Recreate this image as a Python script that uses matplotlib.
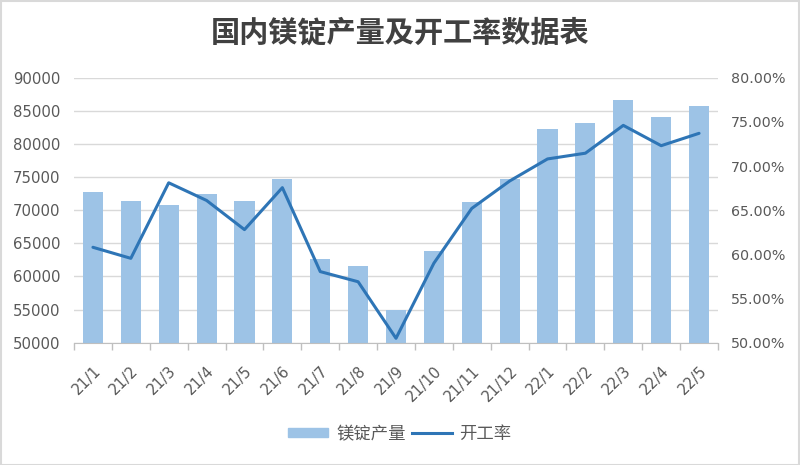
import matplotlib
matplotlib.use("Agg")
import matplotlib.pyplot as plt
from matplotlib.patches import Rectangle
from matplotlib.lines import Line2D
from matplotlib.ticker import FuncFormatter, MultipleLocator, FixedLocator
import numpy as np

plt.rcParams['font.family'] = ['DejaVu Sans', 'Noto Sans CJK SC']

categories = ["21/1", "21/2", "21/3", "21/4", "21/5", "21/6", "21/7", "21/8", "21/9",
              "21/10", "21/11", "21/12", "22/1", "22/2", "22/3", "22/4", "22/5"]
output = [72800, 71400, 70800, 72400, 71400, 74650, 62700, 61550, 55000,
          63900, 71200, 74700, 82250, 83150, 86600, 84050, 85700]
rate = [60.8, 59.55, 68.1, 66.1, 62.8, 67.55, 58.05, 56.9, 50.5,
        59.0, 65.2, 68.3, 70.8, 71.45, 74.6, 72.3, 73.7]

title = "国内镁锭产量及开工率数据表"
bar_label = "镁锭产量"
line_label = "开工率"

bar_color = "#9DC3E6"
line_color = "#2E75B6"
text_color = "#595959"
grid_color = "#D9D9D9"

fig = plt.figure(figsize=(8, 4.65), dpi=100)
fig.patches.append(Rectangle((0.001, 0.001), 0.998, 0.997, transform=fig.transFigure,
                             fill=False, edgecolor="#D9D9D9", linewidth=1.5))

ax = fig.add_axes([0.0925, 0.263, 0.805, 0.570])
x = np.arange(len(categories))
ax.bar(x, output, width=0.53, color=bar_color, zorder=2)
ax.set_ylim(50000, 90000)
ax.set_xlim(-0.5, len(categories) - 0.5)
ax.yaxis.set_major_locator(MultipleLocator(5000))
ax.grid(axis='y', color=grid_color, linewidth=1, zorder=0)
ax.set_axisbelow(True)
for s in ['top', 'left', 'right']:
    ax.spines[s].set_visible(False)
ax.spines['bottom'].set_color("#BFBFBF")
ax.tick_params(axis='y', length=0, labelsize=10.7, labelcolor=text_color, pad=10)
ax.set_xticks(x)
ax.set_xticklabels(categories, rotation=45, ha='right', va='top', rotation_mode='anchor',
                   fontsize=10.7, color=text_color)
ax.tick_params(axis='x', which='major', length=0, pad=15)
ax.xaxis.set_minor_locator(FixedLocator(np.arange(-0.5, len(categories), 1.0)))
ax.tick_params(axis='x', which='minor', length=5, color="#BFBFBF", width=1)

ax2 = ax.twinx()
ax2.plot(x, rate, color=line_color, linewidth=2.2, zorder=3, solid_capstyle='round')
ax2.set_ylim(50, 80)
ax2.yaxis.set_major_locator(MultipleLocator(5))
ax2.yaxis.set_major_formatter(FuncFormatter(lambda v, p: f"{v:.2f}%"))
for s in ['top', 'left', 'right', 'bottom']:
    ax2.spines[s].set_visible(False)
ax2.tick_params(axis='y', length=0, labelsize=10.3, labelcolor=text_color, pad=9)

fig.text(0.5, 0.929, title, ha='center', va='center', fontsize=21, fontweight='bold',
         color="#404040", family=['Noto Sans CJK SC', 'DejaVu Sans'])

handles = [Rectangle((0, 0), 1, 1, color=bar_color),
           Line2D([0], [0], color=line_color, linewidth=2.2)]
fig.legend(handles, [bar_label, line_label], loc='center', bbox_to_anchor=(0.5, 0.067),
           ncol=2, frameon=False, handlelength=2.3, handleheight=0.45, columnspacing=0.35,
           handletextpad=0.45, prop={'family': ['Noto Sans CJK SC', 'DejaVu Sans'], 'size': 12.5},
           labelcolor=text_color)

fig.savefig("out.png", dpi=100)
